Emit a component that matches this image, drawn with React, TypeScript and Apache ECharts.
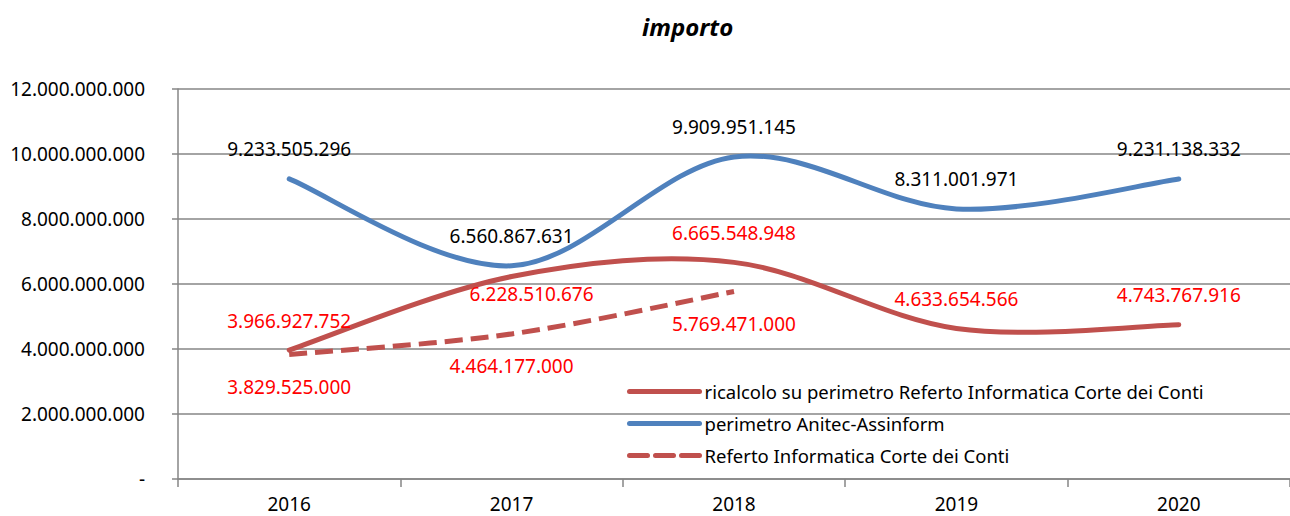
import React, { useEffect, useRef } from "react";
import * as echarts from "echarts";

const years = ["2016", "2017", "2018", "2019", "2020"];
const ricalcolo = [3966927752, 6228510676, 6665548948, 4633654566, 4743767916];
const anitec = [9233505296, 6560867631, 9909951145, 8311001971, 9231138332];
const referto = [3829525000, 4464177000, 5769471000, null, null];
const seriesNames = [
  "ricalcolo su perimetro Referto Informatica Corte dei Conti",
  "perimetro Anitec-Assinform",
  "Referto Informatica Corte dei Conti",
];

const FONT = "Noto Sans";
const RED = "#C0504D";
const BLUE = "#4F81BD";
const fmt = (v: number) => (v === 0 ? "-" : String(Math.round(v)).replace(/\B(?=(\d{3})+(?!\d))/g, "."));

// Catmull-Rom style smoothed path (like spreadsheet smoothed lines) through pixel points
function splinePath(pts: number[][]): string {
  if (!pts.length) return "";
  let d = `M${pts[0][0]},${pts[0][1]}`;
  for (let i = 0; i < pts.length - 1; i++) {
    const p0 = pts[Math.max(0, i - 1)];
    const p1 = pts[i];
    const p2 = pts[i + 1];
    const p3 = pts[Math.min(pts.length - 1, i + 2)];
    const c1x = p1[0] + (p2[0] - p0[0]) / 6;
    const c1y = p1[1] + (p2[1] - p0[1]) / 6;
    const c2x = p2[0] - (p3[0] - p1[0]) / 6;
    const c2y = p2[1] - (p3[1] - p1[1]) / 6;
    d += ` C${c1x},${c1y} ${c2x},${c2y} ${p2[0]},${p2[1]}`;
  }
  return d;
}

function curveSeries(values: (number | null)[], color: string, z: number, dash?: number[]) {
  return {
    type: "custom",
    z,
    silent: true,
    data: values.map((v, i) => [i, v == null ? 0 : v]),
    renderItem: (params: any, api: any) => {
      if (params.dataIndex !== 0) return { type: "group", children: [] };
      const pts: number[][] = [];
      values.forEach((v, i) => {
        if (v != null) pts.push(api.coord([i, v]));
      });
      return {
        type: "path",
        shape: { pathData: splinePath(pts) },
        style: {
          stroke: color,
          lineWidth: 5,
          fill: "none",
          lineCap: dash ? "butt" : "round",
          lineDash: dash || null,
        },
      };
    },
  };
}

export default function App() {
  const ref = useRef<HTMLDivElement>(null);
  useEffect(() => {
    if (!ref.current) return;
    const chart = echarts.init(ref.current, null, { renderer: "svg" });
    const labelBase = {
      show: true,
      fontSize: 19,
      fontFamily: FONT,
      formatter: (p: any) => fmt(p.value),
    };
    const labelLine = (name: string, data: any[], color: string, label: any, dash?: number[]) => ({
      name,
      type: "line",
      symbol: "circle",
      symbolSize: 0,
      showSymbol: true,
      z: 6,
      data,
      lineStyle: { color, width: 5, opacity: 0, type: dash || "solid" },
      itemStyle: { color },
      label: { ...labelBase, ...label },
    });
    chart.setOption({
      animation: false,
      backgroundColor: "#fff",
      title: {
        text: "importo",
        left: 637,
        top: 9,
        textStyle: { fontSize: 24, fontWeight: "bold", fontStyle: "italic", fontFamily: FONT, color: "#000" },
      },
      legend: {
        orient: "vertical",
        left: 622,
        top: 377,
        itemWidth: 70,
        itemHeight: 14,
        itemGap: 13,
        itemStyle: { opacity: 0 },
        lineStyle: { width: 5, cap: "round", opacity: 1 },
        textStyle: { fontSize: 18.5, fontFamily: FONT, color: "#000" },
        data: seriesNames,
      },
      grid: { left: 178, right: -11, top: 89, bottom: 37, containLabel: false },
      xAxis: {
        type: "category",
        data: years,
        boundaryGap: true,
        axisLine: { lineStyle: { color: "#868686", width: 1.5 } },
        axisTick: { show: true, length: 8, lineStyle: { color: "#868686", width: 1.5 } },
        axisLabel: { fontSize: 19, fontFamily: FONT, color: "#000", margin: 15 },
      },
      yAxis: {
        type: "value",
        min: 0,
        max: 12000000000,
        interval: 2000000000,
        axisLine: { show: true, lineStyle: { color: "#868686", width: 1.5 } },
        axisTick: { show: true, length: 6, lineStyle: { color: "#868686", width: 1.5 } },
        splitLine: { lineStyle: { color: "#868686", width: 1.5 } },
        axisLabel: { fontSize: 19, fontFamily: FONT, color: "#000", margin: 33, formatter: fmt },
      },
      series: [
        labelLine(
          seriesNames[0],
          ricalcolo.map((v, i) =>
            i === 1 ? { value: v, label: { position: "bottom", distance: 8, offset: [20, 0] } } : v
          ),
          RED,
          { position: "top", distance: 20, color: "#FF0000" }
        ),
        labelLine(seriesNames[1], anitec, BLUE, { position: "top", distance: 20, color: "#000" }),
        labelLine(seriesNames[2], referto, RED, { position: "bottom", distance: 23, color: "#FF0000" }, [18, 8]),
        curveSeries(referto, RED, 2, [18, 8]),
        curveSeries(ricalcolo, RED, 3),
        curveSeries(anitec, BLUE, 4),
      ],
    });
    return () => chart.dispose();
  }, []);
  return <div ref={ref} style={{ position: "absolute", left: 0, top: 0, width: 1290, height: 516 }} />;
}
